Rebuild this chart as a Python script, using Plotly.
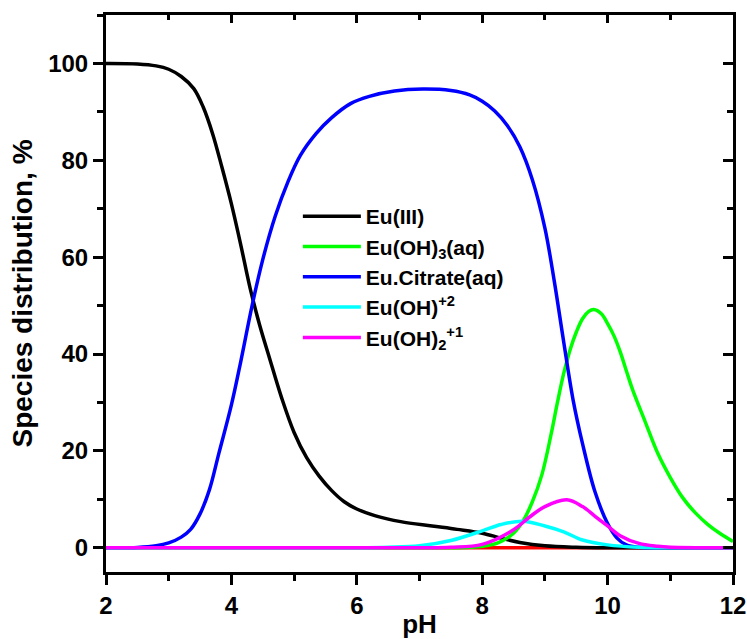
import plotly.graph_objects as go

# pH grids and species distribution (%)
ph_eu = [2.0, 2.5, 2.8, 3.0, 3.2, 3.4, 3.55, 3.7, 3.85, 4.0, 4.15, 4.3, 4.45, 4.6, 4.8, 5.0, 5.2, 5.4, 5.6, 5.8, 6.0, 6.3, 6.7, 7.2, 7.6, 8.0, 8.3, 8.6, 9.0, 9.5, 10.0, 12.0]
eu3 = [100, 99.9, 99.5, 98.8, 97.3, 94.8, 91, 85.5, 78.5, 71, 62.5, 53.5, 46, 39.5, 31, 23.8, 18.6, 14.8, 11.8, 9.5, 8.0, 6.6, 5.4, 4.5, 3.8, 3.0, 2.0, 1.1, 0.4, 0.1, 0.0, 0.0]

ph_cit = [2.0, 2.5, 2.8, 3.0, 3.2, 3.35, 3.5, 3.65, 3.8, 4.0, 4.15, 4.33, 4.5, 4.7, 4.9, 5.1, 5.35, 5.6, 5.9, 6.2, 6.6, 7.05, 7.5, 7.8, 8.0, 8.2, 8.4, 8.6, 8.8, 9.0, 9.15, 9.3, 9.45, 9.6, 9.8, 10.0, 10.15, 10.3, 10.5, 11.0, 12.0]
eu_cit = [0, 0.05, 0.4, 1.0, 2.2, 3.8, 7, 12, 19.5, 29.5, 38.5, 50, 59.5, 68.5, 75.5, 81, 85.5, 88.8, 91.7, 93.2, 94.3, 94.7, 94.4, 93.5, 92.2, 90.2, 87.2, 82.8, 76, 66, 55, 42.5, 30.5, 21.5, 11.5, 5, 2, 0.6, 0.1, 0, 0]

ph_oh3 = [2.0, 7.5, 7.8, 8.0, 8.25, 8.5, 8.65, 8.8, 8.95, 9.1, 9.2, 9.3, 9.4, 9.5, 9.6, 9.7, 9.78, 9.9, 10.0, 10.1, 10.2, 10.3, 10.4, 10.6, 10.8, 11.0, 11.2, 11.4, 11.6, 11.8, 12.0]
eu_oh3 = [0, 0, 0.1, 0.3, 1.0, 3.0, 5.5, 9.5, 15, 23.5, 30, 36, 40.8, 44.5, 47.3, 48.8, 49.2, 48.3, 46.3, 43.8, 40.5, 36.5, 32.6, 26, 19.5, 14.5, 10.3, 7.2, 4.8, 2.9, 1.3]

ph_oh = [2.0, 6.0, 6.5, 7.0, 7.5, 8.0, 8.3, 8.65, 9.0, 9.3, 9.6, 10.0, 10.5, 11.0, 12.0]
eu_oh = [0, 0, 0.1, 0.4, 1.5, 3.5, 4.8, 5.5, 4.5, 3.3, 1.6, 0.6, 0.1, 0, 0]

ph_oh2 = [2.0, 7.0, 7.5, 8.0, 8.5, 8.75, 9.0, 9.35, 9.6, 9.8, 10.0, 10.2, 10.5, 10.8, 11.0, 12.0]
eu_oh2 = [0, 0, 0.1, 0.7, 3.7, 6.3, 8.5, 9.9, 8.5, 6.5, 4.5, 2.5, 0.9, 0.3, 0.1, 0]

ph_other = [2.0, 12.0]
eu_other = [0, 0]

FONT = "Liberation Sans, Arial, sans-serif"

fig = go.Figure()

def add(x, y, color, name, show=True):
    fig.add_trace(go.Scatter(x=x, y=y, mode="lines", name=name, showlegend=show,
                             line=dict(color=color, width=3.5, shape="spline", smoothing=1.0)))

add(ph_other, eu_other, "#ff0000", "other", show=False)
add(ph_eu, eu3, "#000000", "Eu(III)")
add(ph_oh3, eu_oh3, "#00ff00", "Eu(OH)<sub>3</sub>(aq)")
add(ph_cit, eu_cit, "#0000ff", "Eu.Citrate(aq)")
add(ph_oh, eu_oh, "#00ffff", "Eu(OH)<sup>+2</sup>")
add(ph_oh2, eu_oh2, "#ff00ff", "Eu(OH)<sub>2</sub><sup>+1</sup>")

# dummy trace to activate mirror axes
fig.add_trace(go.Scatter(x=[2], y=[0], xaxis="x2", yaxis="y2", mode="markers",
                         marker=dict(opacity=0), showlegend=False, hoverinfo="skip"))

tickfont = dict(family=FONT, size=24, color="black", weight="bold")
common = dict(showgrid=False, zeroline=False, showline=True, linewidth=3, linecolor="black",
              tickwidth=3, tickcolor="black", automargin=False)

fig.update_layout(
    width=747, height=639,
    margin=dict(l=106, r=14, t=15, b=67),
    plot_bgcolor="white", paper_bgcolor="white",
    xaxis=dict(range=[2, 12], tickvals=[2, 4, 6, 8, 10, 12], ticks="outside", ticklen=10,
               minor=dict(dtick=1, tick0=0, ticks="outside", ticklen=6, tickwidth=3, tickcolor="black"),
               tickfont=tickfont,
               title=dict(text="pH", font=dict(family=FONT, size=26, color="black", weight="bold"), standoff=6),
               **common),
    yaxis=dict(range=[-5, 110], tickvals=[0, 20, 40, 60, 80, 100], ticks="outside", ticklen=10,
               minor=dict(dtick=10, tick0=0, ticks="outside", ticklen=6, tickwidth=3, tickcolor="black"),
               tickfont=tickfont,
               title=dict(text="Species distribution, %", font=dict(family=FONT, size=28, color="black", weight="bold"), standoff=8),
               **common),
    xaxis2=dict(range=[2, 12], overlaying="x", side="top", tickvals=[2, 4, 6, 8, 10, 12], ticks="inside", ticklen=8,
                minor=dict(dtick=1, tick0=0, ticks="inside", ticklen=5, tickwidth=3, tickcolor="black"),
                showticklabels=False, **common),
    yaxis2=dict(range=[-5, 110], overlaying="y", side="right", tickvals=[0, 20, 40, 60, 80, 100], ticks="inside", ticklen=10,
                minor=dict(dtick=10, tick0=0, ticks="inside", ticklen=6, tickwidth=3, tickcolor="black"),
                showticklabels=False, **common),
    legend=dict(x=0.306, y=0.675, xanchor="left", yanchor="top", bgcolor="rgba(0,0,0,0)",
                font=dict(family=FONT, size=21, color="black", weight="bold"),
                itemwidth=58, tracegroupgap=0),
    showlegend=True,
)

fig.write_html("out.html")
